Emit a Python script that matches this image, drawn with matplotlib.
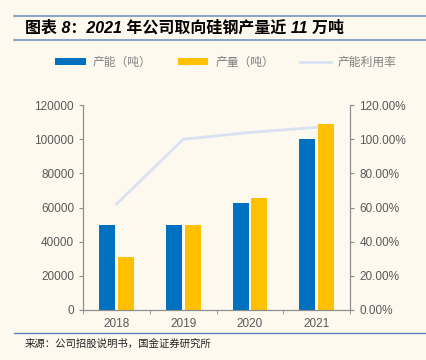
import matplotlib
matplotlib.use("Agg")
import matplotlib.pyplot as plt
import numpy as np
from matplotlib.ticker import FuncFormatter, MultipleLocator

plt.rcParams['font.family'] = ['Liberation Sans', 'Noto Sans CJK SC', 'DejaVu Sans']

years = ["2018", "2019", "2020", "2021"]
capacity = [50000, 50000, 62500, 100000]      # 产能（吨）
output = [30800, 50000, 65300, 109000]        # 产量（吨）
utilization = [0.62, 1.00, 1.04, 1.07]        # 产能利用率

title = "图表 8：2021 年公司取向硅钢产量近 11 万吨"
source = "来源：公司招股说明书，国金证券研究所"

bg = "#fdf9ee"
blue = "#0070c0"
yellow = "#ffc000"
lav = "#d9e1f2"
grey = "#595959"
axis_grey = "#8c8c8c"

fig = plt.figure(figsize=(4.26, 3.6), dpi=100, facecolor=bg)
ax = fig.add_axes([0.195, 0.139, 0.627, 0.569], facecolor=bg)
ax2 = ax.twinx()

x = np.arange(len(years))
w = 0.24
ax.bar(x - w / 2 - 0.02, capacity, w, color=blue, label="产能（吨）", zorder=2)
ax.bar(x + w / 2 + 0.02, output, w, color=yellow, label="产量（吨）", zorder=2)
ax2.plot(x, utilization, color=lav, linewidth=2, label="产能利用率")

ax.set_xlim(-0.5, len(years) - 0.5)
ax.set_ylim(0, 120000)
ax2.set_ylim(0, 1.2)
ax.yaxis.set_major_locator(MultipleLocator(20000))
ax2.yaxis.set_major_locator(MultipleLocator(0.2))
ax2.yaxis.set_major_formatter(FuncFormatter(lambda v, p: f"{v * 100:.2f}%"))

ax.set_xticks(x)
ax.set_xticklabels(years)
ax.set_xticks(np.arange(-0.5, len(years)), minor=True)
ax.tick_params(axis="x", which="major", length=0, pad=6, labelsize=8.5, labelcolor=grey)
ax.tick_params(axis="x", which="minor", length=3, direction="out", color=axis_grey)
ax.tick_params(axis="y", length=3, color=axis_grey, labelsize=8.5, labelcolor=grey)
ax2.tick_params(axis="y", length=3, color=axis_grey, labelsize=8.5, labelcolor=grey)

for a in (ax, ax2):
    a.spines["top"].set_visible(False)
    for s in ("left", "right", "bottom"):
        a.spines[s].set_color(axis_grey)

h1, l1 = ax.get_legend_handles_labels()
h2, l2 = ax2.get_legend_handles_labels()
fig.legend(h1 + h2, l1 + l2, loc="center", bbox_to_anchor=(0.53, 0.828), ncol=3,
           frameon=False, labelcolor="#808080", handlelength=2.6,
           handleheight=0.5, columnspacing=2.2, handletextpad=0.6,
           prop={"family": ["Noto Sans CJK SC"], "size": 8.5})

fig.add_artist(plt.Line2D([0.033, 1.0], [1 - 16 / 360] * 2, color="#7f9cc4", lw=1.3))
fig.add_artist(plt.Line2D([0.033, 1.0], [1 - 39.5 / 360] * 2, color="#7f9cc4", lw=1.3))
fig.add_artist(plt.Line2D([0.033, 1.0], [1 - 333 / 360] * 2, color="#5a86bd", lw=1))

fig.text(0.058, 1 - 28 / 360, title, fontsize=11.5, fontweight="bold", style="italic",
         va="center", ha="left", color="black",
         family=["Liberation Sans", "Noto Sans CJK SC"])
fig.text(0.058, 1 - 344 / 360, source, fontsize=7.5, va="center", ha="left",
         color="#222222", family=["Noto Sans CJK SC"])

fig.savefig("out.png", dpi=100, facecolor=bg)
